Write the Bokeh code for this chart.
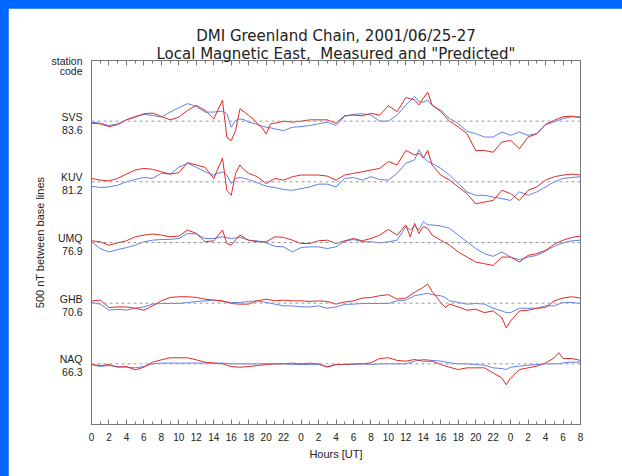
from bokeh.plotting import figure
from bokeh.models import (ColumnDataSource, Range1d, LinearAxis, FixedTicker, Span)
from bokeh.embed import file_html
from bokeh.resources import INLINE

# ---------------- data ----------------
STATIONS = ["SVS", "KUV", "UMQ", "GHB", "NAQ"]
LATITUDES = ["83.6", "81.2", "76.9", "70.6", "66.3"]
OFFSETS = [2000, 1500, 1000, 500, 0]          # nT, 500 nT between base lines
TITLE_LINES = ["DMI Greenland Chain, 2001/06/25-27",
               'Local Magnetic East,\u00a0 Measured and "Predicted"']

TICK_HOURS = [0, 2, 4, 6, 8, 10, 12, 14, 16, 18, 20, 22, 24, 26, 28, 30, 32, 34,
              36, 38, 40, 42, 44, 46, 48, 50, 52, 54, 56]
TICK_LABELS = ["0", "2", "4", "6", "8", "10", "12", "14", "16", "18", "20", "22",
               "0", "2", "4", "6", "8", "10", "12", "14", "16", "18", "20", "22",
               "0", "2", "4", "6", "8"]
MINOR_HOURS = list(range(0, 57))

svs_t = [0, 1, 2, 3, 4, 5, 6, 7, 8, 9, 10, 11, 12, 13, 14, 15,
         15.5, 16, 16.5, 17, 17.5, 18, 18.5, 19, 19.5, 20, 20.5,
         21, 22, 23, 24, 25, 26, 27, 28, 29, 30, 31, 32, 33, 34, 35, 36, 37,
         37.5, 38, 38.5,
         39, 40, 41, 42, 43, 44, 45, 46, 47, 48, 49, 50, 51, 52, 53, 54, 55, 56]
svs_meas = [-17, -22, -45, -28, 11, 33, 61, 67, 39, 11, 33, 89, 130, 89, 19, 172,
            -133, -161, -78, 103, 75, 47, 19, -22, -50, -106, -22,
            -17, 0, -8, 0, 11, 11, 11, -17, 45, 50, 44, 64, 50, 128, 78, 195, 175,
            134, 189, 239,
            134, 78, 0, -47, -103, -242, -242, -256, -172, -158, -228, -131, -103, -28, 8, 36, 42, 28]
svs_pred = [-8, -17, -36, -22, 11, 39, 56, 47, 33, 75, 111, 145, 122, 75, 75, 83,
            61, -50, 6, 19, 11, -8, -17, -28, -40, -50, -55,
            -64, -78, -50, -45, -36, -22, -8, -36, 40, 56, 61, 50, 0, 0, 50, 134, 203,
            161, 156, 175,
            128, 92, 22, -19, -83, -103, -131, -131, -89, -117, -89, -117, -103, -28, -6, 22, 36, 36]

kuv_t = [0, 1, 2, 3, 4, 5, 6, 7, 8, 9, 10, 11, 12, 13, 14, 15,
         15.5, 16, 16.5, 17, 17.5,
         18, 19, 20, 21, 22, 23, 24, 25, 26, 27, 28, 29, 30, 31, 32, 33, 34, 35, 36, 37,
         37.5, 38, 38.5,
         39, 40, 41, 42, 43, 44, 45, 46, 47, 48, 49, 50, 51, 52, 53, 54, 55, 56]
kuv_meas = [28, 14, 8, 28, 64, 97, 111, 103, 83, 64, 75, 158, 139, 120, 28, 195,
            -70, -111, 70, 139, 97,
            70, 42, -14, 28, 14, 42, 56, 56, 56, 47, 14, 56, 70, 83, 97, 111, 167, 139, 259, 222,
            236, 195, 259,
            139, 56, 14, -42, -97, -181, -167, -153, -70, -97, -153, -70, -42, 14, 42, 56, 64, 56]
kuv_pred = [-36, -47, -42, -28, 0, 19, 36, 28, 70, 64, 120, 153, 120, 83, 56, 83,
            56, -14, 28, 36, 28,
            19, -8, -36, -47, -64, -70, -56, -42, -19, -19, -42, 28, 36, 14, 42, 19, 14, 70, 153, 181,
            264, 203, 167,
            153, 111, 56, -14, -83, -111, -111, -125, -139, -153, -83, -111, -83, -42, 0, 28, 36, 42]

umq_t = [0, 1, 2, 3, 4, 5, 6, 7, 8, 9, 10, 11, 12, 13, 14, 15,
         15.5,
         16, 17, 18, 19, 20, 21, 22, 23, 24, 25, 26, 27, 28, 29, 30, 31, 32, 33, 34, 35, 36,
         36.5, 37, 37.5, 38, 38.5,
         39, 40, 41, 42, 43, 44, 45, 46, 47, 48, 49, 50, 51, 52, 53, 54, 55, 56]
umq_meas = [14, 6, -22, -3, 14, 47, 61, 70, 61, 47, 53, 103, 75, 6, 14, 103,
            -8,
            -22, 61, 19, 6, 6, 47, 42, 19, -8, -8, 14, 19, -8, 14, 33, 14, 33, 61, 108, 61, 145,
            47, 158, 75, 131, 117,
            61, 19, -22, -78, -120, -161, -175, -189, -120, -120, -161, -106, -92, -64, -14, 19, 42, 53]
umq_pred = [6, -50, -78, -58, -42, -22, 6, 19, 25, 25, 33, 75, 70, 33, 33, 47,
            40,
            33, 42, 19, 14, -3, -31, -36, -78, -42, -36, -36, -50, -36, 10, 25, 6, 6, -3, 6, 19, 131,
            103, 136, 103, 172, 145,
            145, 136, 117, 61, 6, -50, -92, -114, -78, -120, -142, -120, -106, -70, -31, -3, 14, 19]

ghb_t = [0, 1, 2, 3, 4, 5, 6, 7, 8, 9, 10, 11, 12, 13, 14, 15, 16, 17, 18, 19,
         20, 21, 22, 23, 24, 25, 26, 27, 28, 29, 30, 31, 32, 33, 34, 35, 36, 37, 38,
         38.5, 39, 40, 40.5,
         41, 42, 43, 44, 45, 46, 47, 47.5,
         48, 49, 50, 51, 52, 53, 54, 55, 56]
ghb_meas = [19, 25, -36, -31, -31, -42, -58, -22, 19, 47, 53, 53, 47, 33, 25, 19, -3, -8, -8, 19,
            33, 19, 25, 19, 19, 14, 19, 14, -8, 10, 19, 42, 47, 61, 70, 33, 42, 89, 131,
            158, 97, 6, -36,
            -8, -31, -58, -50, -78, -64, -120, -203,
            -147, -64, -58, -42, -36, 19, 42, 53, 42]
ghb_pred = [6, -8, -58, -50, -58, -42, -31, -8, -3, -3, -3, 6, 14, 19, 25, 14, 6, 6, 14, 19,
            6, -8, -22, -22, -31, -31, -22, -42, -31, -10, -8, -3, -3, -3, -3, 19, 25, 61, 75,
            81, 70, 61, 47,
            19, 6, -8, -3, -8, -42, -64, -78,
            -78, -42, -42, -42, -22, -22, 6, 6, -3]

naq_t = [0, 1, 2, 3, 4, 5, 6, 7, 8, 9, 10, 11, 12, 13, 14, 15, 16, 17, 18, 19,
         20, 21, 22, 23, 24, 25, 26, 27, 28, 29, 30, 31, 32, 33, 34, 35, 36, 37, 38, 39,
         40, 41, 42, 43, 44, 45, 46, 47, 47.5,
         48, 49, 50, 51, 52, 53, 53.5, 54, 55, 56]
naq_meas = [-6, -14, -6, -28, -22, -50, -28, 14, 33, 50, 50, 50, 33, 14, 6, 0, -22, -28, -22, -14,
            -6, 0, 0, 6, 0, 6, 0, -28, -6, -5, 0, 0, 8, 44, 50, 28, 22, 36, 22, 22,
            -6, -28, -47, -33, -33, -33, -75, -117, -172,
            -117, -47, -33, -19, 8, 50, 92, 44, 44, 28]
naq_pred = [-6, -22, -14, -22, -28, -33, -22, 0, 6, 6, 6, 6, 6, 6, 6, 6, 0, 0, 0, 0,
            0, 0, 0, -6, -6, -6, -6, -22, -6, -5, -6, 0, -6, 0, 0, 0, 0, 22, 36, 28,
            22, 8, 0, 0, -6, -11, -33, -39, -47,
            -28, -19, -11, -6, 0, 0, 0, 8, 14, 14]

SERIES = [(svs_t, svs_meas, svs_pred), (kuv_t, kuv_meas, kuv_pred),
          (umq_t, umq_meas, umq_pred), (ghb_t, ghb_meas, ghb_pred),
          (naq_t, naq_meas, naq_pred)]

# ---------------- styles ----------------
RED = "#e02a24"
BLUE = "#5f80ea"
FRAME = "#777777"
TEXT = "#222222"
FONT = "Liberation Sans"
TITLE_FONT = "DejaVu Sans"
NAME_SHIFT = 37     # label placement around each base line (nT)
LAT_SHIFT = -70

p = figure(width=614, height=468, output_backend="svg", toolbar_location=None,
           x_range=Range1d(0, 56), y_range=Range1d(-500, 2500),
           x_axis_location=None, y_axis_location=None,
           min_border_left=83, min_border_right=42,
           min_border_top=52, min_border_bottom=52)
p.background_fill_color = "white"
p.border_fill_color = "white"
p.outline_line_color = FRAME
p.outline_line_width = 1
p.xgrid.visible = False
p.ygrid.visible = False

p.title.text = TITLE_LINES[0]
p.title.align = "center"
p.title.text_font = TITLE_FONT
p.title.text_font_size = "15px"
p.title.text_font_style = "normal"
p.title.text_color = TEXT
p.title.standoff = -7

for off in OFFSETS:
    p.add_layout(Span(location=off, dimension="width", line_color="#9a9a9a",
                      line_dash="3 3", line_width=1))

for (t, meas, pred), off in zip(SERIES, OFFSETS):
    src = ColumnDataSource(dict(t=t,
                                meas=[v + off for v in meas],
                                pred=[v + off for v in pred]))
    p.line("t", "pred", source=src, line_color=BLUE, line_width=1.0)
    p.line("t", "meas", source=src, line_color=RED, line_width=1.0)

ticker = FixedTicker(ticks=TICK_HOURS, minor_ticks=MINOR_HOURS)
overrides = {h: s for h, s in zip(TICK_HOURS, TICK_LABELS)}

bottom = LinearAxis(ticker=ticker, major_label_overrides=overrides,
                    axis_label="Hours [UT]")
top = LinearAxis(ticker=ticker, major_label_overrides={h: "" for h in TICK_HOURS},
                 axis_label=TITLE_LINES[1])
for ax in (bottom, top):
    ax.axis_line_color = None
    ax.major_tick_in = 5
    ax.major_tick_out = 0
    ax.minor_tick_in = 3
    ax.minor_tick_out = 0
    ax.major_tick_line_color = FRAME
    ax.minor_tick_line_color = FRAME
    ax.axis_label_text_font_style = "normal"
    ax.axis_label_text_color = TEXT
bottom.major_label_text_font = FONT
bottom.major_label_text_font_size = "10px"
bottom.major_label_text_color = TEXT
bottom.major_label_standoff = 8
bottom.axis_label_text_font = FONT
bottom.axis_label_text_font_size = "11px"
bottom.axis_label_standoff = 4
top.major_label_text_font_size = "1px"
top.major_label_standoff = 0
top.axis_label_text_font = TITLE_FONT
top.axis_label_text_font_size = "15px"
top.axis_label_standoff = -2
p.add_layout(bottom, "below")
p.add_layout(top, "above")

# left axis carries the station labels (no ticks drawn)
left_ticks = [2495, 2410]
left_overrides = {2495: "station", 2410: "code"}
for name, lat, off in zip(STATIONS, LATITUDES, OFFSETS):
    left_ticks += [off + NAME_SHIFT, off + LAT_SHIFT]
    left_overrides[off + NAME_SHIFT] = name
    left_overrides[off + LAT_SHIFT] = lat
left = LinearAxis(ticker=FixedTicker(ticks=left_ticks), major_label_overrides=left_overrides,
                  axis_label="500 nT between base lines")
left.axis_line_color = None
left.major_tick_in = 0
left.major_tick_out = 0
left.minor_tick_in = 0
left.minor_tick_out = 0
left.major_label_standoff = 9
left.major_label_text_font = FONT
left.major_label_text_font_size = "10.5px"
left.major_label_text_color = TEXT
left.axis_label_text_font = FONT
left.axis_label_text_font_size = "11px"
left.axis_label_text_font_style = "normal"
left.axis_label_text_color = TEXT
left.axis_label_standoff = 3
p.add_layout(left, "left")

html = file_html(p, INLINE, title="DMI Greenland Chain")
style = ("<style>html,body{background:#0066ff;}"
         "body{margin:8px 0 0 8px;overflow:hidden;}</style>")
html = html.replace("</head>", style + "</head>", 1)
open("out.html", "w").write(html)
